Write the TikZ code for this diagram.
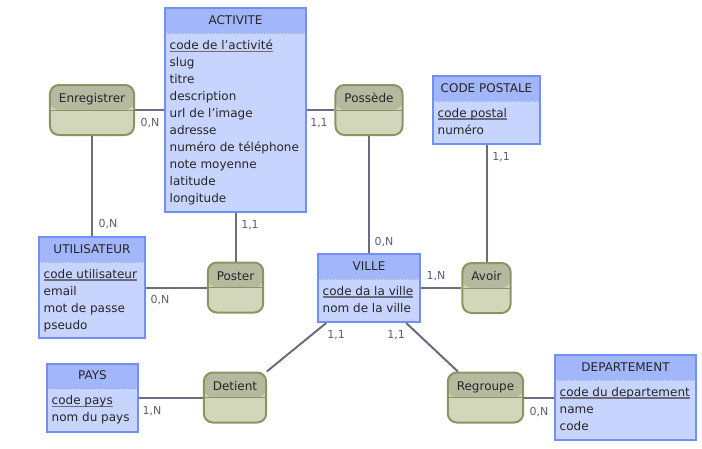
\documentclass[tikz,border=0pt]{standalone}
\usepackage{fontspec}
\setmainfont{DejaVu Sans}
\usetikzlibrary{positioning}

\definecolor{enthead}{HTML}{A2B6FB}
\definecolor{entbody}{HTML}{C7D4FD}
\definecolor{entline}{HTML}{7090F5}
\definecolor{entsep}{HTML}{8AA2EE}
\definecolor{ashead}{HTML}{B5B99F}
\definecolor{asbody}{HTML}{D2D6BA}
\definecolor{asline}{HTML}{8A9562}
\definecolor{linkcol}{HTML}{6E6A80}
\definecolor{cardcol}{HTML}{5F5B72}

\newsavebox{\idbox}
\newcommand{\idattr}[1]{\sbox{\idbox}{#1}\rlap{\color{linkcol}\rule[-2.5pt]{\wd\idbox}{1.5pt}}\usebox{\idbox}}

\begin{document}
\begin{tikzpicture}[x=1pt, y=-1pt,
  entity/.style={draw=entline, line width=2pt, fill=entbody, inner sep=0pt,
    path picture={
      \fill[enthead] (path picture bounding box.north west) rectangle ([yshift=-25pt]path picture bounding box.north east);
      \draw[entsep, dotted, line width=1pt] ([yshift=-25pt]path picture bounding box.north west) -- ([yshift=-25pt]path picture bounding box.north east);
    }},
  etitle/.style={inner sep=0pt, minimum height=25pt, font=\fontsize{12}{14}\selectfont, text=black!85},
  attrs/.style={align=left, inner xsep=5.5pt, inner ysep=8pt, font=\fontsize{12}{17}\selectfont, text=black!85},
  assoc/.style={draw=asline, line width=2pt, fill=asbody, rounded corners=9pt,
    inner xsep=9pt, inner ysep=0pt, minimum height=50pt, text height=17.5pt, text depth=32.5pt,
    font=\fontsize{12}{14}\selectfont, text=black!85,
    path picture={
      \fill[ashead] (path picture bounding box.north west) rectangle ([yshift=-25pt]path picture bounding box.north east);
      \draw[asline, line width=1pt] ([yshift=-25pt]path picture bounding box.north west) -- ([yshift=-25pt]path picture bounding box.north east);
    }},
  link/.style={draw=linkcol, line width=2pt},
  card/.style={font=\fontsize{11}{13}\selectfont, text=cardcol, inner sep=0pt}]

\useasboundingbox (0,0) rectangle (702,448);

% Entites
\node[entity, minimum width=141pt, minimum height=204pt] (activite) at (235.5,110) {};
\node[etitle, below=0pt of activite.north] (activite-t) {ACTIVITE};
\node[attrs, below right=25pt and 0pt of activite.north west] (activite-a) {\idattr{code de l’activité}\\slug\\titre\\description\\url de l’image\\adresse\\numéro de téléphone\\note moyenne\\latitude\\longitude};

\node[entity, minimum width=106pt, minimum height=101pt] (utilisateur) at (92,287.5) {};
\node[etitle, below=0pt of utilisateur.north] (utilisateur-t) {UTILISATEUR};
\node[attrs, below right=25pt and 0pt of utilisateur.north west] (utilisateur-a) {\idattr{code utilisateur}\\email\\mot de passe\\pseudo};

\node[entity, minimum width=107pt, minimum height=68pt] (codepostale) at (486.5,110) {};
\node[etitle, below=0pt of codepostale.north] (codepostale-t) {CODE POSTALE};
\node[attrs, below right=25pt and 0pt of codepostale.north west] (codepostale-a) {\idattr{code postal}\\numéro};

\node[entity, minimum width=102pt, minimum height=68pt] (ville) at (369,288) {};
\node[etitle, below=0pt of ville.north] (ville-t) {VILLE};
\node[attrs, below right=25pt and 0pt of ville.north west] (ville-a) {\idattr{code da la ville}\\nom de la ville};

\node[entity, minimum width=91pt, minimum height=68pt] (pays) at (92.5,397.5) {};
\node[etitle, below=0pt of pays.north] (pays-t) {PAYS};
\node[attrs, below right=25pt and 0pt of pays.north west] (pays-a) {\idattr{code pays}\\nom du pays};

\node[entity, minimum width=141pt, minimum height=85pt] (departement) at (625.5,397.5) {};
\node[etitle, below=0pt of departement.north] (departement-t) {DEPARTEMENT};
\node[attrs, below right=25pt and 0pt of departement.north west] (departement-a) {\idattr{code du departement}\\name\\code};

% Associations
\node[assoc] (enregistrer) at (92,110) {Enregistrer};
\node[assoc] (possede) at (369,110) {Possède};
\node[assoc] (poster) at (235.5,287.5) {Poster};
\node[assoc] (avoir) at (486.5,288) {Avoir};
\node[assoc] (detient) at (235,397.5) {Detient};
\node[assoc] (regroupe) at (485.5,397.5) {Regroupe};

% Liens
\foreach \a/\b in {enregistrer/activite, enregistrer/utilisateur, activite/possede,
  possede/ville, activite/poster, utilisateur/poster, codepostale/avoir,
  ville/avoir, ville/detient, ville/regroupe, pays/detient, regroupe/departement}
  \draw[link] (\a) -- (\b);

% Cardinalites
\node[card] (card-enr-act) at (150,123) {0,N};
\node[card] (card-enr-uti) at (108,224) {0,N};
\node[card] (card-pos-act) at (319,123) {1,1};
\node[card] (card-pos-vil) at (384,242) {0,N};
\node[card] (card-pst-act) at (250,225) {1,1};
\node[card] (card-pst-uti) at (160,300) {0,N};
\node[card] (card-avo-cp) at (501,157) {1,1};
\node[card] (card-avo-vil) at (436,276) {1,N};
\node[card] (card-det-vil) at (336,335) {1,1};
\node[card] (card-reg-vil) at (396,335) {1,1};
\node[card] (card-det-pay) at (152,411) {1,N};
\node[card] (card-reg-dep) at (539,412) {0,N};

\end{tikzpicture}
\end{document}
